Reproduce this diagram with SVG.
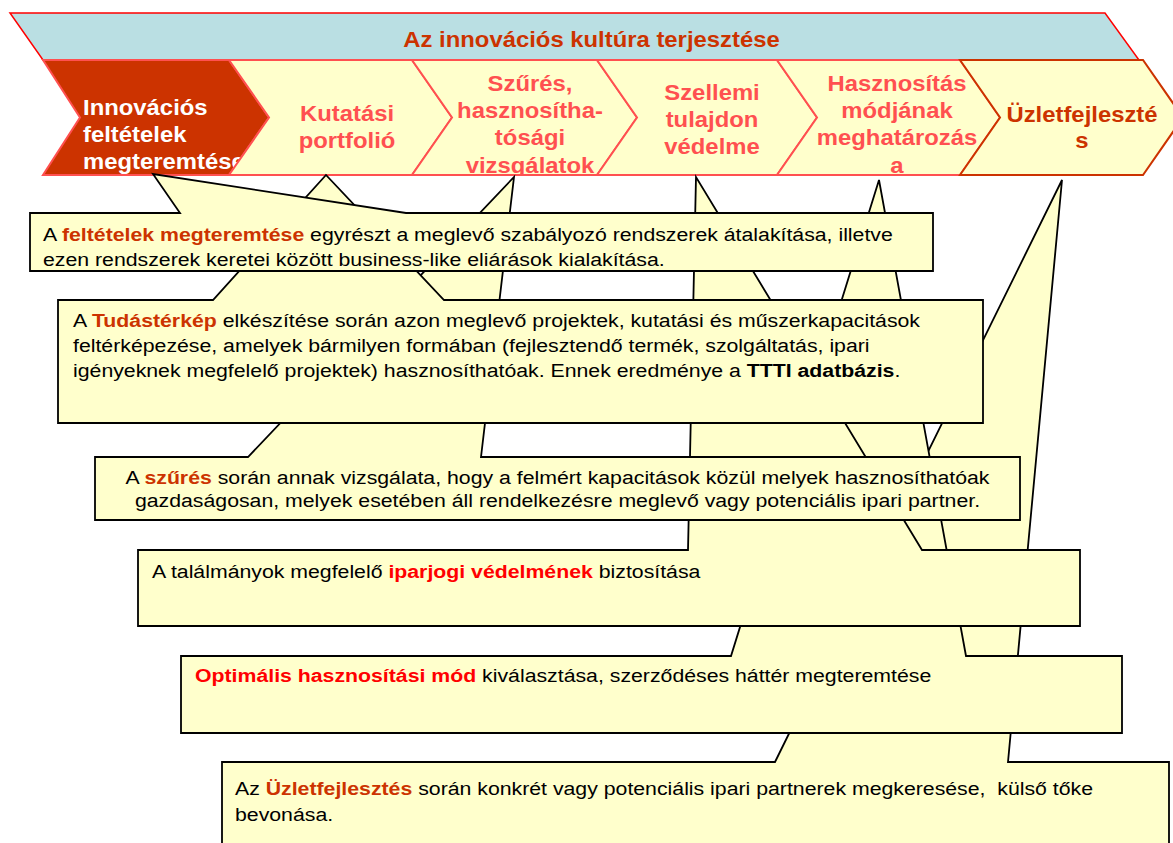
<svg xmlns="http://www.w3.org/2000/svg" width="1173" height="843" viewBox="0 0 1173 843">
<style>
text { font-family: "Liberation Sans", Arial, sans-serif; }
.body { font-size: 19px; fill: #000; }
.chv { font-size: 21.3px; font-weight: bold; }
.pink { fill: #ff5050; }
.dark { fill: #cc3300; }
.white { fill: #ffffff; }
.or { fill: #cc3300; font-weight: bold; }
.rd { fill: #ff0000; font-weight: bold; }
.bk { font-weight: bold; }
.chev { fill: #ffffcc; stroke: #ff5050; stroke-width: 2; stroke-linejoin: miter; }
.call { fill: #ffffcc; stroke: #000; stroke-width: 1.8; stroke-linejoin: miter; }
</style>
<defs>
<clipPath id="k1"><polygon points="43,60 229,60 269,117.5 229,175 43,175 80,117.5"/></clipPath>
<clipPath id="k3"><polygon points="412,60 597,60 637,117.5 597,175 412,175 452,117.5"/></clipPath>
<clipPath id="k5"><polygon points="777,60 960,60 1000,117.5 960,175 777,175 817,117.5"/></clipPath>
<clipPath id="cb1"><rect x="30" y="213" width="903" height="53"/></clipPath>
</defs>

<g id="banner">
<polygon points="10,13 1105,13 1139,60 43,60" fill="#badfe3" stroke="#ff0000" stroke-width="1.5"/>
<text class="chv dark" text-anchor="middle" transform="translate(591.5 47) scale(1.12 1)">Az innovációs kultúra terjesztése</text>
</g>

<g id="chev1">
<polygon class="chev" style="fill:#cc3300" points="43,60 229,60 269,117.5 229,175 43,175 80,117.5"/>
<g clip-path="url(#k1)">
<text class="chv white" transform="translate(83 115) scale(1.12 1)"><tspan x="0" y="0">Innovációs</tspan><tspan x="0" y="27">feltételek</tspan><tspan x="0" y="54">megteremtése</tspan></text>
</g>
</g>

<g id="chev2">
<polygon class="chev" points="229,60 412,60 452,117.5 412,175 229,175 269,117.5"/>
<text class="chv pink" text-anchor="middle" transform="translate(347 121) scale(1.12 1)"><tspan x="0" y="0">Kutatási</tspan><tspan x="0" y="27">portfolió</tspan></text>
</g>

<g id="chev3">
<polygon class="chev" points="412,60 597,60 637,117.5 597,175 412,175 452,117.5"/>
<g clip-path="url(#k3)">
<text class="chv pink" text-anchor="middle" transform="translate(530 91) scale(1.12 1)"><tspan x="0" y="0">Szűrés,</tspan><tspan x="0" y="27">hasznosítha-</tspan><tspan x="0" y="54">tósági</tspan><tspan x="0" y="82">vizsgálatok</tspan></text>
</g>
</g>

<g id="chev4">
<polygon class="chev" points="597,60 777,60 817,117.5 777,175 597,175 637,117.5"/>
<text class="chv pink" text-anchor="middle" transform="translate(712 100) scale(1.12 1)"><tspan x="0" y="0">Szellemi</tspan><tspan x="0" y="27">tulajdon</tspan><tspan x="0" y="54">védelme</tspan></text>
</g>

<g id="chev5">
<polygon class="chev" points="777,60 960,60 1000,117.5 960,175 777,175 817,117.5"/>
<g clip-path="url(#k5)">
<text class="chv pink" text-anchor="middle" transform="translate(897 91) scale(1.12 1)"><tspan x="0" y="0">Hasznosítás</tspan><tspan x="0" y="27">módjának</tspan><tspan x="0" y="54">meghatározás</tspan><tspan x="0" y="82">a</tspan></text>
</g>
</g>

<g id="chev6">
<polygon class="chev" style="stroke:#cc3300" points="960,60 1143,60 1183,117.5 1143,175 960,175 1000,117.5"/>
<text class="chv dark" text-anchor="middle" transform="translate(1082 122) scale(1.12 1)"><tspan x="0" y="0">Üzletfejleszté</tspan><tspan x="0" y="26">s</tspan></text>
</g>

<g id="callout6">
<path class="call" d="M222,762 H775 L1062,180 L1008,762 H1169 V850 H222 Z"/>
<text class="body" transform="translate(235 795) scale(1.12 1)"><tspan x="0" y="0">Az <tspan class="or">Üzletfejlesztés</tspan> során konkrét vagy potenciális ipari partnerek megkeresése,&#160; külső tőke</tspan><tspan x="0" y="26">bevonása.</tspan></text>
</g>

<g id="callout5">
<path class="call" d="M181,656 H731 L879,180 L966,656 H1122 V733 H181 Z"/>
<text class="body" transform="translate(195 682) scale(1.12 1)"><tspan class="rd">Optimális hasznosítási mód</tspan> kiválasztása, szerződéses háttér megteremtése</text>
</g>

<g id="callout4">
<path class="call" d="M138,550 H688 L696,177 L922,550 H1080 V626 H138 Z"/>
<text class="body" transform="translate(152 578) scale(1.12 1)">A találmányok megfelelő <tspan class="rd">iparjogi védelmének</tspan> biztosítása</text>
</g>

<g id="callout3">
<path class="call" d="M95,457 H248 L514,177 L481,457 H1020 V520 H95 Z"/>
<text class="body" text-anchor="middle" transform="translate(557.5 484) scale(1.12 1)"><tspan x="0" y="0">A <tspan class="or">szűrés</tspan> során annak vizsgálata, hogy a felmért kapacitások közül melyek hasznosíthatóak</tspan><tspan x="0" y="23">gazdaságosan, melyek esetében áll rendelkezésre meglevő vagy potenciális ipari partner.</tspan></text>
</g>

<g id="callout2">
<path class="call" d="M58,300 H213 L326,175 L444,300 H983 V423 H58 Z"/>
<text class="body" transform="translate(73 327) scale(1.12 1)"><tspan x="0" y="0">A <tspan class="or">Tudástérkép</tspan> elkészítése során azon meglevő projektek, kutatási és műszerkapacitások</tspan><tspan x="0" y="25">feltérképezése, amelyek bármilyen formában (fejlesztendő termék, szolgáltatás, ipari</tspan><tspan x="0" y="50">igényeknek megfelelő projektek) hasznosíthatóak. Ennek eredménye a <tspan class="bk">TTTI adatbázis</tspan>.</tspan></text>
</g>

<g id="callout1">
<path class="call" d="M30,213 H180 L153,174 L406,213 H933 V271 H30 Z"/>
<g clip-path="url(#cb1)">
<text class="body" transform="translate(43 241) scale(1.12 1)"><tspan x="0" y="0">A <tspan class="or">feltételek megteremtése</tspan> egyrészt a meglevő szabályozó rendszerek átalakítása, illetve</tspan><tspan x="0" y="25">ezen rendszerek keretei között business-like eljárások kialakítása.</tspan></text>
</g>
</g>
</svg>
